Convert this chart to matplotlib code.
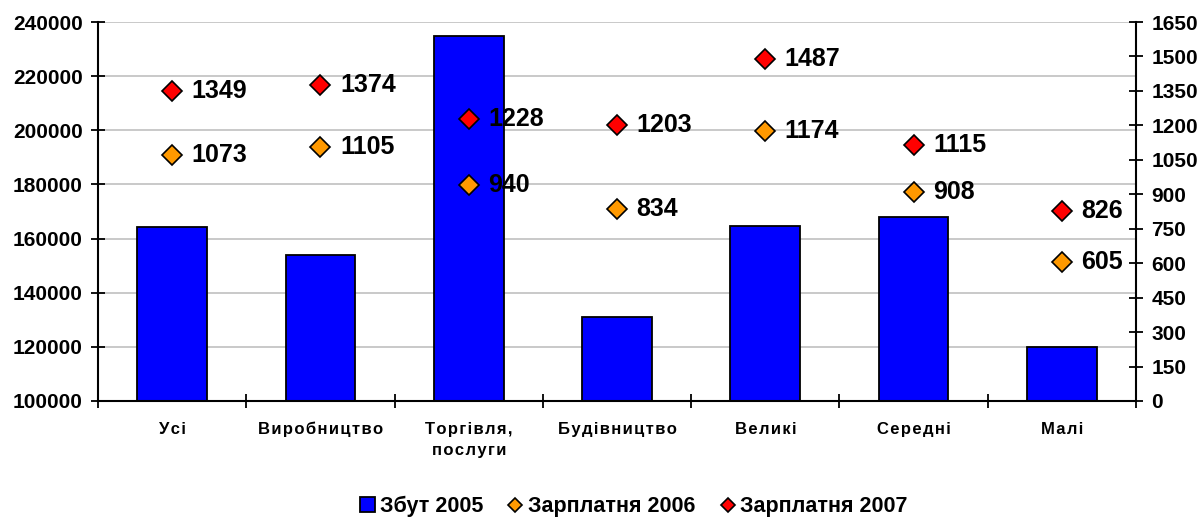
import matplotlib
matplotlib.use("Agg")
import matplotlib.pyplot as plt
import numpy as np

categories = ["Усі", "Виробництво", "Торгівля,\nпослуги", "Будівництво", "Великі", "Середні", "Малі"]
sales_2005 = [164300, 153900, 234800, 131000, 164600, 168000, 120000]
wage_2006 = [1073, 1105, 940, 834, 1174, 908, 605]
wage_2007 = [1349, 1374, 1228, 1203, 1487, 1115, 826]

plt.rcParams['font.family'] = ['Liberation Sans', 'DejaVu Sans']
plt.rcParams['font.weight'] = 'bold'


def spaced(s, sp='\u200a'):
    return '\n'.join(sp.join(line) for line in s.split('\n'))


fig = plt.figure(figsize=(12, 5.18), dpi=100)
ax = fig.add_axes([0.0817, 0.2259, 0.865, 0.7316])
x = np.arange(len(categories))

ax.set_xlim(-0.5, len(categories) - 0.5)
ax.set_ylim(100000, 240000)
ax.set_yticks(np.arange(100000, 240001, 20000))
ax.grid(axis='y', color='#c0c0c0', linewidth=1.2)
ax.set_axisbelow(True)
bars = ax.bar(x, sales_2005, width=0.47, bottom=0, color='#0000ff', edgecolor='black',
              linewidth=1.3, label='Збут 2005', zorder=2)

ax.set_xticks(np.arange(-0.5, len(categories), 1.0))
ax.set_xticklabels([])
ax.set_xticks(x, minor=True)
ax.set_xticklabels([spaced(c) for c in categories], minor=True, fontsize=12,
                   fontweight='bold', linespacing=1.55, va='top')
ax.tick_params(axis='x', which='minor', length=0, pad=15)
ax.tick_params(axis='x', which='major', direction='inout', length=10, width=1.3)
ax.tick_params(axis='y', direction='inout', length=10, width=1.3, labelsize=15, pad=6)
for lbl in ax.get_yticklabels():
    lbl.set_fontweight('bold')

for s in ['top', 'right']:
    ax.spines[s].set_visible(False)
for s in ['left', 'bottom']:
    ax.spines[s].set_linewidth(1.5)

ax2 = ax.twinx()
ax2.set_ylim(0, 1650)
ax2.set_yticks(np.arange(0, 1651, 150))
ax2.tick_params(axis='y', direction='inout', length=10, width=1.3, labelsize=15, pad=6)
for lbl in ax2.get_yticklabels():
    lbl.set_fontweight('bold')
for s in ['top', 'left', 'bottom']:
    ax2.spines[s].set_visible(False)
ax2.spines['right'].set_linewidth(1.5)

l1, = ax2.plot(x, wage_2006, linestyle='none', marker='D', markersize=10,
               markerfacecolor='#ff9900', markeredgecolor='black', markeredgewidth=1.2,
               label='Зарплатня 2006', zorder=3)
l2, = ax2.plot(x, wage_2007, linestyle='none', marker='D', markersize=10,
               markerfacecolor='#ff0000', markeredgecolor='black', markeredgewidth=1.2,
               label='Зарплатня 2007', zorder=3)

for xi, v in zip(x, wage_2006):
    ax2.annotate(str(v), (xi, v), xytext=(14, 0), textcoords='offset points',
                 ha='left', va='center', fontsize=18, fontweight='bold')
for xi, v in zip(x, wage_2007):
    ax2.annotate(str(v), (xi, v), xytext=(14, 0), textcoords='offset points',
                 ha='left', va='center', fontsize=18, fontweight='bold')

leg = fig.legend([bars, l1, l2], ['Збут 2005', 'Зарплатня 2006', 'Зарплатня 2007'],
                 loc='center', bbox_to_anchor=(0.528, 0.022), ncol=3, frameon=False,
                 prop={'size': 15.5, 'weight': 'bold'}, handlelength=0.7, handleheight=0.7,
                 handletextpad=0.23, columnspacing=1.15, markerscale=0.68)

fig.savefig("out.png", dpi=100)
